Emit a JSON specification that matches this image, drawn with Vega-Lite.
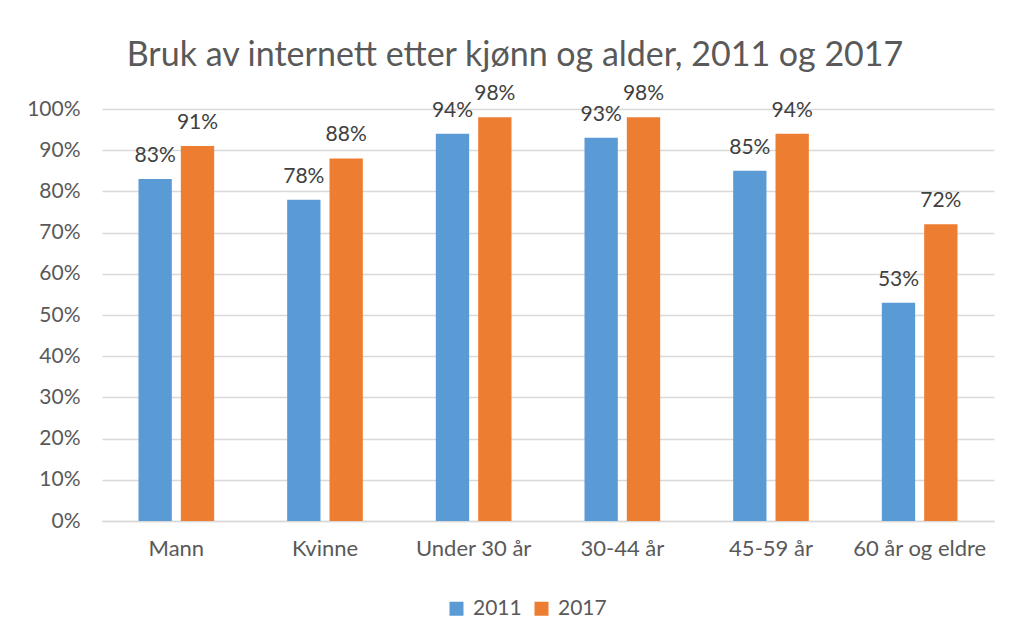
{
  "$schema": "https://vega.github.io/schema/vega-lite/v6.json",
  "width": 892,
  "height": 412,
  "autosize": "none",
  "padding": {"left": 102, "top": 109, "right": 17, "bottom": 116},
  "background": "white",
  "title": {
    "text": "Bruk av internett etter kjønn og alder, 2011 og 2017",
    "fontSize": 34,
    "font": "Lato",
    "fontWeight": "normal",
    "color": "#595959",
    "anchor": "middle",
    "frame": "group",
    "dx": -33,
    "offset": 10
  },
  "data": {
    "values": [
      {"gruppe": "Mann", "år": "2011", "andel": 0.83},
      {"gruppe": "Mann", "år": "2017", "andel": 0.91},
      {"gruppe": "Kvinne", "år": "2011", "andel": 0.78},
      {"gruppe": "Kvinne", "år": "2017", "andel": 0.88},
      {"gruppe": "Under 30 år", "år": "2011", "andel": 0.94},
      {"gruppe": "Under 30 år", "år": "2017", "andel": 0.98},
      {"gruppe": "30-44 år", "år": "2011", "andel": 0.93},
      {"gruppe": "30-44 år", "år": "2017", "andel": 0.98},
      {"gruppe": "45-59 år", "år": "2011", "andel": 0.85},
      {"gruppe": "45-59 år", "år": "2017", "andel": 0.94},
      {"gruppe": "60 år og eldre", "år": "2011", "andel": 0.53},
      {"gruppe": "60 år og eldre", "år": "2017", "andel": 0.72}
    ]
  },
  "encoding": {
    "x": {
      "field": "gruppe",
      "type": "nominal",
      "sort": null,
      "scale": {"paddingInner": 0.491, "paddingOuter": 0.2455},
      "axis": {
        "title": null,
        "labelAngle": 0,
        "labelFont": "Lato",
        "labelFontSize": 22,
        "labelColor": "#595959",
        "labelPadding": 17,
        "ticks": false,
        "domainColor": "#d9d9d9",
        "domainWidth": 1.5
      }
    },
    "xOffset": {
      "field": "år",
      "type": "nominal",
      "scale": {"paddingInner": 0.213, "paddingOuter": 0}
    },
    "y": {
      "field": "andel",
      "type": "quantitative",
      "scale": {"domain": [0, 1], "nice": false},
      "axis": {
        "title": null,
        "format": ".0%",
        "values": [0, 0.1, 0.2, 0.3, 0.4, 0.5, 0.6, 0.7, 0.8, 0.9, 1],
        "labelFont": "Lato",
        "labelFontSize": 21,
        "labelColor": "#595959",
        "labelPadding": 22,
        "ticks": false,
        "domain": false,
        "gridColor": "#d9d9d9",
        "gridWidth": 1.5
      }
    }
  },
  "layer": [
    {
      "mark": {"type": "bar"},
      "encoding": {
        "color": {
          "field": "år",
          "type": "nominal",
          "scale": {"domain": ["2011", "2017"], "range": ["#5B9BD5", "#ED7D31"]},
          "legend": {
            "title": null,
            "orient": "none",
            "direction": "horizontal",
            "legendX": 344,
            "legendY": 489,
            "symbolType": "square",
            "symbolSize": 196,
            "symbolStrokeWidth": 0,
            "labelFont": "Lato",
            "labelFontSize": 21,
            "labelColor": "#595959",
            "columnPadding": 9,
            "labelOffset": 6
          }
        }
      }
    },
    {
      "mark": {"type": "text", "baseline": "bottom", "dy": -13, "font": "Lato", "fontSize": 21, "color": "#404040"},
      "encoding": {
        "text": {"field": "andel", "type": "quantitative", "format": ".0%"}
      }
    }
  ],
  "config": {
    "view": {"stroke": null}
  }
}
